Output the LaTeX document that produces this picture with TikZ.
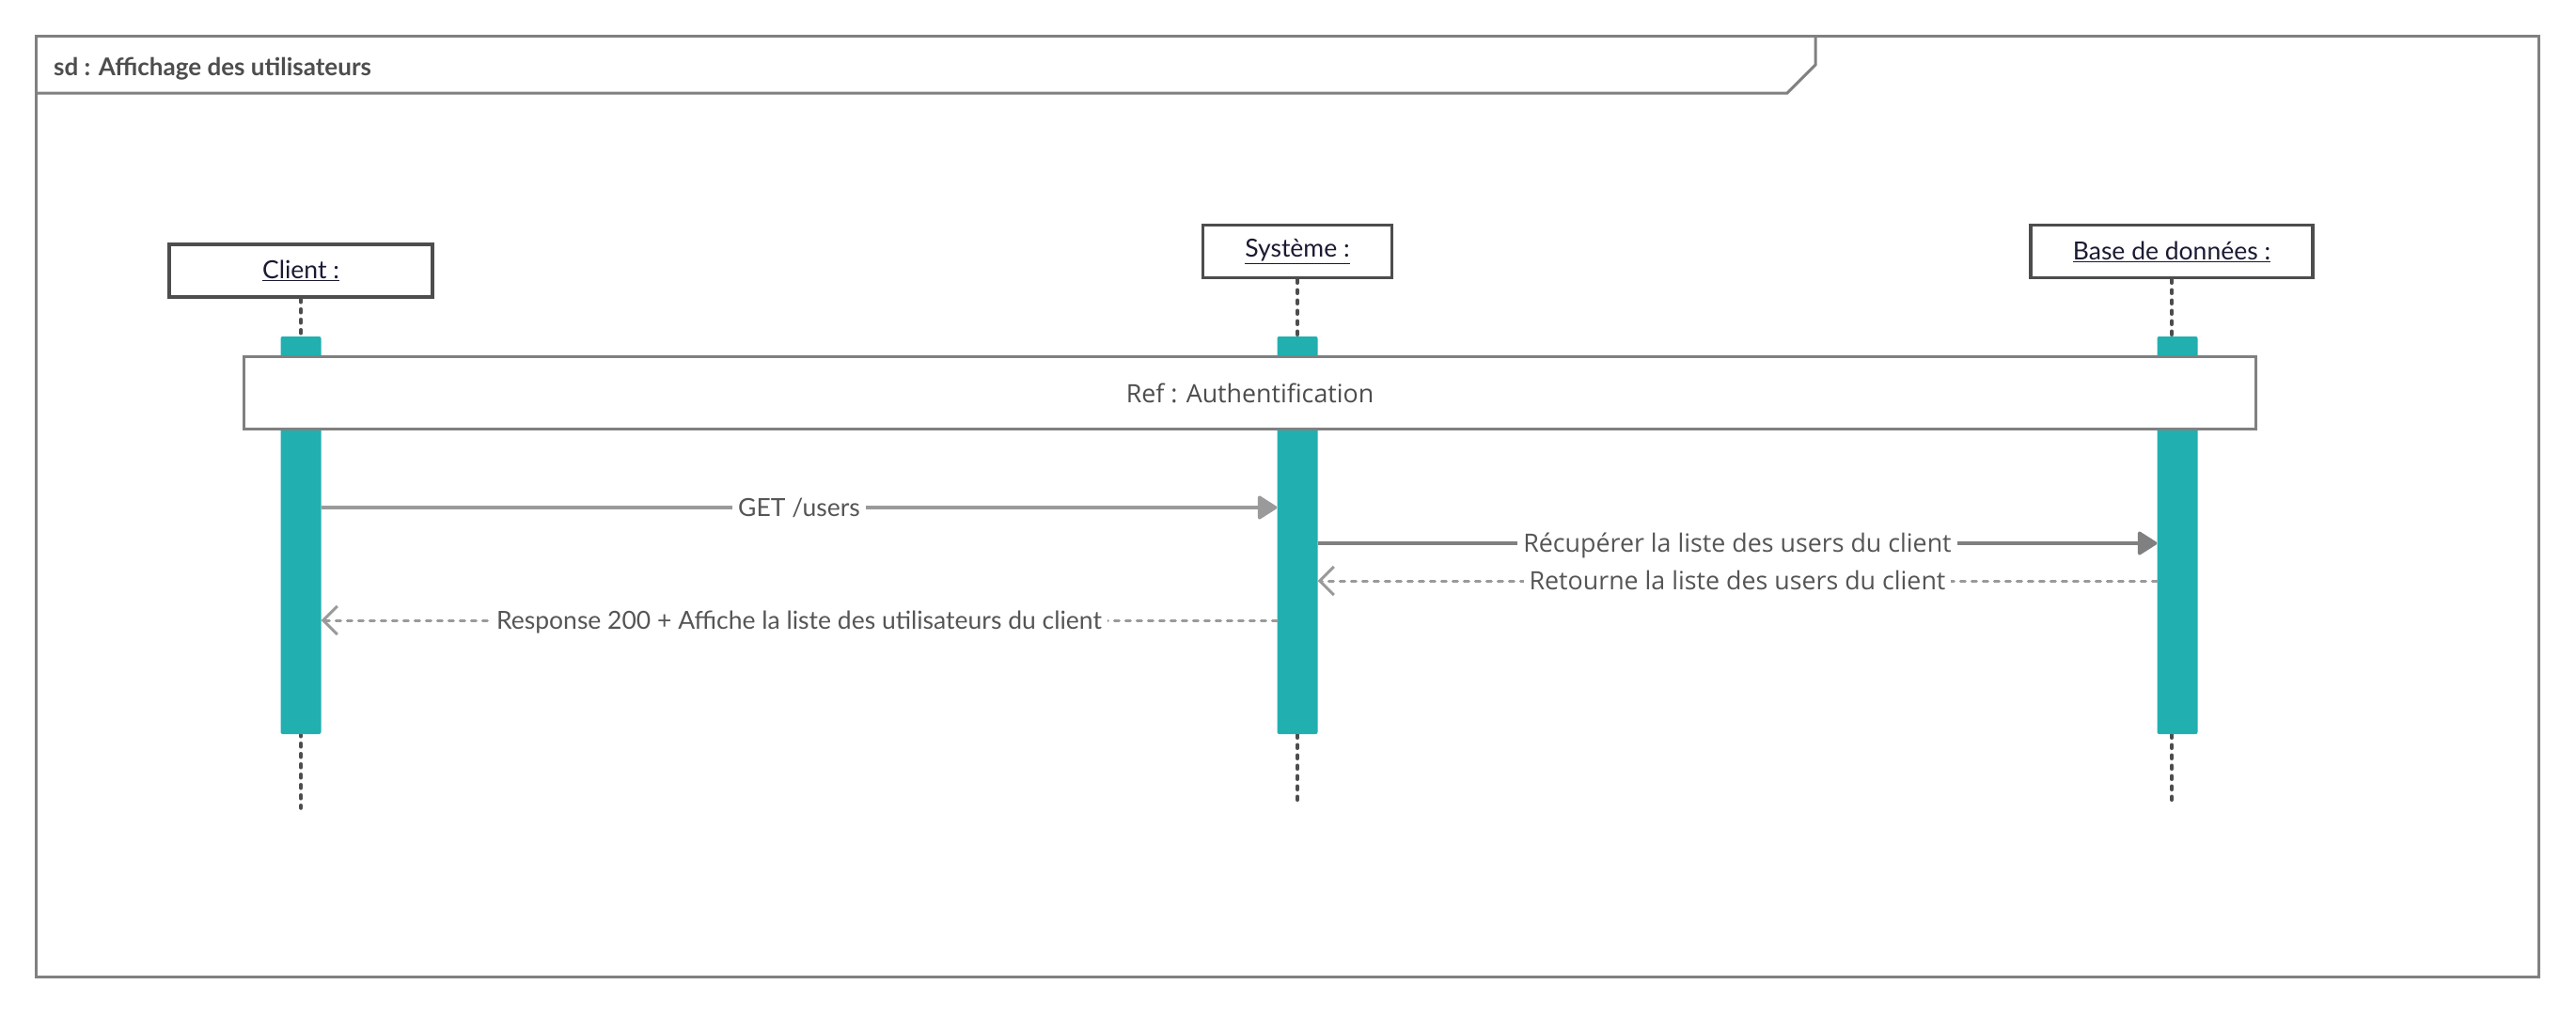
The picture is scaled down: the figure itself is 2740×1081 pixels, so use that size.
\documentclass[tikz,border=0pt]{standalone}
\usepackage{fontspec}
\setmainfont{Lato}
\newfontfamily\opensans{Open Sans}
\usetikzlibrary{arrows.meta}
\definecolor{framegray}{HTML}{808080}
\definecolor{boxgray}{HTML}{4D4D4D}
\definecolor{labelgray}{HTML}{555555}
\definecolor{replygray}{HTML}{9A9A9A}
\definecolor{objnavy}{HTML}{1A1A33}
\definecolor{actteal}{HTML}{22AFAF}
\begin{document}
\begin{tikzpicture}[x=1pt,y=-1pt,
  frame/.style={draw=framegray,line width=3pt},
  objbox/.style={draw=boxgray,line width=3.5pt,fill=white,minimum width=#1,minimum height=56pt,inner sep=0pt,font=\fontsize{26.5}{30}\selectfont,text=objnavy},
  lifeline/.style={draw=boxgray,line width=3.5pt,dash pattern=on 4pt off 7pt,line cap=round},
  act/.style={fill=actteal,minimum width=43pt,minimum height=423pt,inner sep=0pt,rounded corners=2pt},
  refbox/.style={draw=framegray,line width=3pt,fill=white,minimum width=2140pt,minimum height=77pt,font=\opensans\fontsize{26.8}{30}\selectfont,text=boxgray},
  call/.style={draw=#1,line width=3.5pt,-{Triangle[length=22pt,width=27pt,round]}},
  reply/.style={draw=replygray,line width=3pt,dash pattern=on 5pt off 7pt,line cap=round,-{Straight Barb[length=15pt,width=30pt]}},
  msglabel/.style={fill=white,inner xsep=6pt,inner ysep=0pt,text height=18pt,text depth=0pt,font=\fontsize{26.5}{30}\selectfont,text=labelgray},
  dblabel/.style={msglabel,text height=19pt,font=\opensans\fontsize{26.8}{30}\selectfont}]
\useasboundingbox (0,0) rectangle (2740,1081);
\draw[frame] (38.5,38.5) rectangle (2700,1039);
\draw[frame] (38.5,99) -- (1901,99) -- (1931,69) -- (1931,38.5);
\node[anchor=base west,inner sep=0pt,font=\fontsize{26}{30}\selectfont\bfseries,text=boxgray] (sdtitle) at (57,81) {sd : Affichage des utilisateurs};
\node[objbox=280pt] (client) at (320,288) {\underline{Client :}};
\node[objbox=201pt] (sys) at (1380,267.5) {\underline{Système :}};
\node[objbox=300pt] (base) at (2310,267.5) {\underline{Base de données :}};
\coordinate (clientend) at (320,860);
\coordinate (sysend) at (1380,854);
\coordinate (baseend) at (2310,854);
\draw[lifeline] (client) -- (clientend);
\draw[lifeline] (sys) -- (sysend);
\draw[lifeline] (base) -- (baseend);
\node[act] (actclient) at (320,569.5) {};
\node[act] (actsys) at (1380,569.5) {};
\node[act] (actbase) at (2316,569.5) {};
\node[refbox] (ref) at (1329.5,418) {Ref : Authentification};
\coordinate (get) at (0,540);
\coordinate (fetch) at (0,578);
\coordinate (back) at (0,618);
\coordinate (answer) at (0,660);
\draw[call=replygray] (actclient.east |- get) -- node[msglabel]{GET /users} (actsys.west |- get);
\draw[call=framegray] (actsys.east |- fetch) -- node[dblabel]{Récupérer la liste des users du client} (actbase.west |- fetch);
\draw[reply] (actbase.west |- back) -- node[dblabel]{Retourne la liste des users du client} (actsys.east |- back);
\draw[reply] (actsys.west |- answer) -- node[msglabel]{Response 200 + Affiche la liste des utilisateurs du client} (actclient.east |- answer);
\end{tikzpicture}
\end{document}
